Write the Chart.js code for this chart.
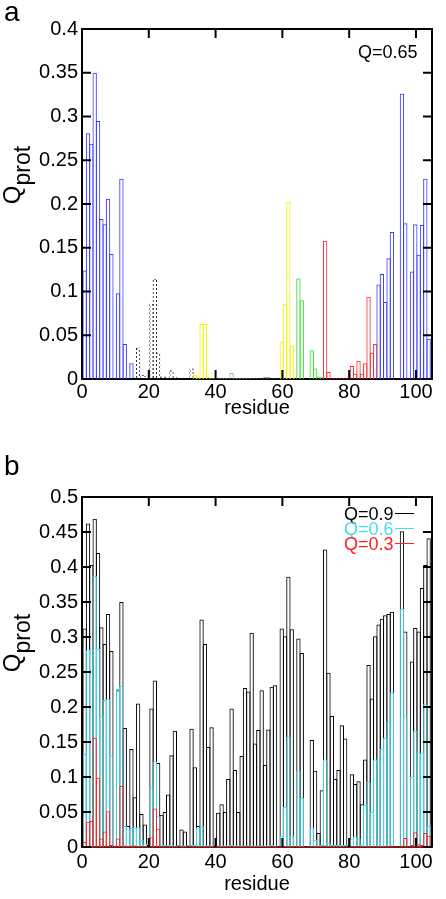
<!DOCTYPE html>
<html lang="en">
<head>
<meta charset="UTF-8">
<title>Q_prot per residue</title>
<script src="https://cdn.jsdelivr.net/npm/chart.js"></script>
<style>
  body { margin: 0; background: #fff; }
  #page { position: relative; width: 446px; height: 899px; background: #fff; font-family: 'Liberation Sans', Arial, Helvetica, sans-serif; color: #000; }
  canvas { position: absolute; left: 0; }
  .txt { position: absolute; line-height: 1; white-space: nowrap; }
  .letter { font-size: 28px; left: 4px; }
  .ytitle { position: absolute; width: 0; height: 0; }
  .ytitle span.in { position: absolute; transform: translate(-50%, -50%) rotate(-90deg); font-size: 24px; line-height: 1; white-space: nowrap; }
  .ytitle .sub { font-size: 23px; position: relative; top: 10px; }
  .leg { font-size: 18px; left: 344px; }
  .leg i { display: inline-block; width: 19px; height: 0; border-top: 1px solid; vertical-align: 6px; margin-left: 1px; }
</style>
</head>
<body>
<div id="page">
  <canvas id="chartA" width="446" height="450" style="top:0"></canvas>
  <canvas id="chartB" width="446" height="449" style="top:450px"></canvas>

  <div class="txt letter" style="top:-2px">a</div>
  <div class="txt letter" style="top:452px">b</div>

  <div class="ytitle" style="left:12px; top:175px"><span class="in">Q<span class="sub">prot</span></span></div>
  <div class="ytitle" style="left:12px; top:643px"><span class="in">Q<span class="sub">prot</span></span></div>

  <div class="txt" style="left:358px; top:43px; font-size:18px">Q=0.65</div>

  <div class="txt leg" style="top:505px; color:#000">Q=0.9<i></i></div>
  <div class="txt leg" style="top:520px; color:#44ddee">Q=0.6<i></i></div>
  <div class="txt leg" style="top:535px; color:#ff2020">Q=0.3<i></i></div>
</div>

<script>
  // residue index 0..103
  const residues = Array.from({ length: 104 }, (_, i) => i);

  // panel a: Q = 0.65
  const q065 = [
    0.124, 0.281, 0.269, 0.350, 0.295, 0.183, 0.177, 0.206, 0.143, 0,
    0.098, 0.229, 0.040, 0,     0.018, 0.002, 0.036, 0.005, 0.004, 0.002,
    0.086, 0.114, 0.030, 0.003, 0.003, 0.001, 0.010, 0.002, 0,     0.001,
    0.001, 0,     0.012, 0.005, 0.002, 0.063, 0.063, 0.003, 0.001, 0.001,
    0.001, 0.001, 0.001, 0.001, 0.007, 0.001, 0.001, 0.001, 0.001, 0.001,
    0.001, 0.001, 0.001, 0.001, 0.002, 0.002, 0.001, 0.001, 0,     0.043,
    0.086, 0.203, 0.038, 0,     0.115, 0.090, 0,     0,     0.033, 0.012,
    0.003, 0.002, 0.158, 0.008, 0.001, 0.001, 0.001, 0.001, 0.001, 0.001,
    0.015, 0.006, 0.021, 0.006, 0.018, 0.094, 0.030, 0.040, 0.108, 0.120,
    0.088, 0.138, 0.168, 0,     0,     0.326, 0.178, 0,     0.123, 0.177,
    0.142, 0.176, 0.229, 0.046
  ];

  // panel b: Q = 0.9, 0.6, 0.3
  const q09 = [
    0.312, 0.462, 0.403, 0.469, 0.420, 0.314, 0.290, 0.333, 0.280, 0,
    0.224, 0.350, 0.170, 0.030, 0.140, 0.071, 0.205, 0.047, 0.032, 0.003,
    0.198, 0.238, 0.120, 0.046, 0.050, 0.075, 0.131, 0.166, 0.002, 0.025,
    0.022, 0.002, 0.169, 0.114, 0.030, 0.325, 0.290, 0.143, 0.171, 0.002,
    0.049, 0.061, 0.050, 0.097, 0.198, 0.110, 0.050, 0.130, 0.227, 0.222,
    0.306, 0.148, 0.167, 0.224, 0.117, 0.168, 0.229, 0.231, 0,     0.312,
    0.301, 0.386, 0.311, 0,     0.298, 0.277, 0,     0,     0.153, 0.109,
    0.020, 0.081, 0.425, 0.249, 0.187, 0.097, 0.110, 0.174, 0.155, 0.002,
    0.104, 0.090, 0.094, 0.061, 0.125, 0.260, 0.212, 0.301, 0.318, 0.326,
    0.331, 0.333, 0.336, 0,     0,     0.451, 0.308, 0,     0.265, 0.313,
    0.308, 0.370, 0.403, 0.441
  ];
  const q06 = [
    0.133, 0.281, 0.283, 0.387, 0.283, 0.187, 0.210, 0.211, 0.131, 0,
    0.226, 0.230, 0.030, 0.025, 0.027, 0.028, 0.028, 0.010, 0.005, 0,
    0.085, 0.122, 0.044, 0.004, 0.003, 0.003, 0.002, 0.002, 0,     0.002,
    0.002, 0,     0.003, 0.003, 0.028, 0.030, 0.002, 0.002, 0.002, 0,
    0.002, 0.002, 0.002, 0.002, 0.003, 0.002, 0.002, 0.002, 0.002, 0.002,
    0.002, 0.002, 0.002, 0.002, 0.002, 0.002, 0.003, 0.002, 0,     0.016,
    0.057, 0.157, 0.016, 0,     0.109, 0.070, 0,     0,     0.028, 0.010,
    0.002, 0.003, 0.125, 0.006, 0.003, 0.003, 0.003, 0.003, 0.003, 0,
    0.011, 0.015, 0.012, 0.004, 0.060, 0.093, 0.050, 0.125, 0.125, 0.140,
    0.156, 0.179, 0.220, 0,     0,     0.340, 0.188, 0,     0.100, 0.166,
    0.135, 0.134, 0.204, 0.030
  ];
  const q03 = [
    0.007, 0.036, 0.037, 0.156, 0.099, 0.012, 0.022, 0.051, 0.003, 0,
    0.012, 0.087, 0.002, 0.001, 0.002, 0.002, 0.001, 0.001, 0.001, 0,
    0.014, 0.055, 0.026, 0.001, 0.001, 0.001, 0.001, 0.001, 0,     0.001,
    0.001, 0,     0.001, 0.001, 0.001, 0.001, 0.001, 0.001, 0.001, 0,
    0.001, 0.001, 0.001, 0.001, 0.001, 0.001, 0.001, 0.001, 0.001, 0.001,
    0.001, 0.001, 0.001, 0.001, 0.001, 0.001, 0.001, 0.001, 0,     0.001,
    0.001, 0.001, 0.001, 0,     0.001, 0.001, 0,     0,     0.001, 0.001,
    0.001, 0.001, 0.002, 0.001, 0.001, 0.001, 0.001, 0.001, 0.001, 0,
    0.001, 0.001, 0.001, 0.001, 0.001, 0.001, 0.001, 0.001, 0.001, 0.001,
    0.001, 0.001, 0.002, 0,     0,     0.002, 0.013, 0,     0.003, 0.021,
    0.004, 0.003, 0.020, 0.016
  ];

  // colour bands of panel a: first residue of each band
  const bandStart = [0, 15, 33, 39, 51, 58, 63, 72, 88];

  // ---- styles ----
  const FONT = "'Liberation Sans', Arial, Helvetica, sans-serif";
  const bandColor = ['#3a3aff', 'dots', '#f2f200', '#8fb0c4', '#666666', '#f2f200', '#33dd33', '#ff2a2a', '#3a3aff'];
  const BAR_SHIFT = 0.8; // bars sit just right of each residue position

  function dots(color) {
    const c = document.createElement('canvas');
    c.width = 4; c.height = 4;
    const g = c.getContext('2d');
    g.fillStyle = color;
    g.fillRect(0, 0, 2, 2);
    g.fillRect(2, 2, 2, 2);
    return g.createPattern(c, 'repeat');
  }
  const dotted = dots('#222');

  function colorA(i) {
    let b = 0;
    while (b + 1 < bandStart.length && i >= bandStart[b + 1]) b++;
    return bandColor[b] === 'dots' ? dotted : bandColor[b];
  }

  const pts = vals => residues.map(r => ({ x: r + BAR_SHIFT, y: vals[r] }));

  // frame with inward tick marks, drawn from the chart's scales
  const frame = {
    id: 'frame',
    beforeDatasetsDraw(chart, args, opts) {
      const { ctx, chartArea: a } = chart;
      ctx.save();
      ctx.lineWidth = 2;
      ctx.strokeStyle = opts.bottomColor || '#000';
      ctx.beginPath();
      ctx.moveTo(a.left - 1, a.bottom);
      ctx.lineTo(a.right + 1, a.bottom);
      ctx.stroke();
      ctx.restore();
    },
    afterDatasetsDraw(chart) {
      const { ctx, chartArea: a, scales: { x, y } } = chart;
      ctx.save();
      ctx.lineWidth = 2;
      ctx.strokeStyle = '#000';
      ctx.beginPath();
      ctx.moveTo(a.left, a.bottom);
      ctx.lineTo(a.left, a.top);
      ctx.lineTo(a.right, a.top);
      ctx.lineTo(a.right, a.bottom);
      ctx.stroke();
      ctx.beginPath();
      y.ticks.forEach(t => {
        const p = y.getPixelForValue(t.value);
        ctx.moveTo(a.left, p); ctx.lineTo(a.left + 9, p);
        ctx.moveTo(a.right, p); ctx.lineTo(a.right - 9, p);
      });
      x.ticks.forEach(t => {
        const p = x.getPixelForValue(t.value);
        ctx.moveTo(p, a.top); ctx.lineTo(p, a.top + 9);
        ctx.moveTo(p, a.bottom); ctx.lineTo(p, a.bottom - 9);
      });
      ctx.stroke();
      ctx.restore();
    }
  };

  function makeChart(id, datasets, yMax, g) {
    return new Chart(document.getElementById(id), {
      type: 'bar',
      data: { datasets },
      options: {
        responsive: false,
        animation: false,
        events: [],
        layout: { padding: { left: 0, right: 14, top: g.top, bottom: 0 } },
        datasets: {
          bar: {
            grouped: false,
            barPercentage: 1.3,
            categoryPercentage: 1,
            borderWidth: 1,
            backgroundColor: 'rgba(0,0,0,0)'
          }
        },
        scales: {
          x: {
            type: 'linear', min: 0, max: 104.8, offset: false,
            grid: { display: false, drawTicks: false },
            border: { display: false },
            ticks: { stepSize: 20, includeBounds: false, padding: g.tickPad, color: '#000', maxRotation: 0,
                     font: { family: FONT, size: 20 } },
            title: { display: true, text: 'residue', color: '#000', font: { family: FONT, size: 20 },
                     padding: { top: 0, bottom: g.titlePad } },
            afterFit: s => { s.height = g.xh; }
          },
          y: {
            min: 0, max: yMax,
            grid: { display: false, drawTicks: false },
            border: { display: false },
            ticks: { stepSize: 0.05, padding: 4, color: '#000', font: { family: FONT, size: 20 },
                     callback: v => String(+v.toFixed(2)) },
            afterFit: s => { s.width = 82; }
          }
        },
        plugins: {
          legend: { display: false },
          tooltip: { enabled: false },
          frame: { bottomColor: g.bottomColor }
        }
      },
      plugins: [frame]
    });
  }

  makeChart('chartA', [
    { label: 'Q=0.65', data: pts(q065), borderColor: c => colorA(c.dataIndex) }
  ], 0.4, { top: 29, xh: 71, tickPad: 1, titlePad: 30, bottomColor: '#000' });

  makeChart('chartB', [
    { label: 'Q=0.3', data: pts(q03), borderColor: '#ff2020' },
    { label: 'Q=0.6', data: pts(q06), borderColor: '#44ddee' },
    { label: 'Q=0.9', data: pts(q09), borderColor: '#000' }
  ], 0.5, { top: 47, xh: 52, tickPad: 3, titlePad: 3, bottomColor: '#6e1a1a' });
</script>
</body>
</html>
